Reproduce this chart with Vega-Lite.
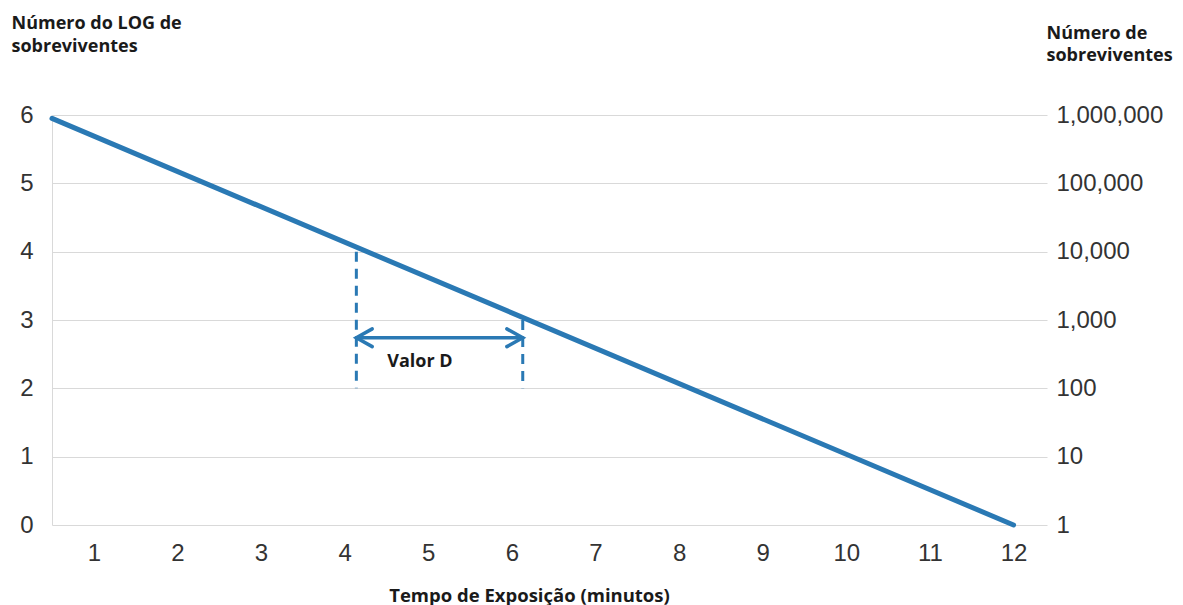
{
  "$schema": "https://vega.github.io/schema/vega-lite/v6.json",
  "width": 995,
  "height": 410,
  "autosize": "none",
  "padding": {"left": 52, "top": 115, "right": 136, "bottom": 80},
  "background": "white",
  "config": {"view": {"stroke": null}, "font": "Liberation Sans"},
  "datasets": {
    "curve": [{"t": 0.5, "log": 5.95}, {"t": 12, "log": 0}],
    "dashes": [
      {"seg": "a", "t": 4.14, "log": 4.0},
      {"seg": "a", "t": 4.14, "log": 2.0},
      {"seg": "b", "t": 6.13, "log": 3.0},
      {"seg": "b", "t": 6.13, "log": 2.0}
    ],
    "arrow": [
      {"seg": "shaft", "ord": 1, "t": 4.14, "log": 2.74},
      {"seg": "shaft", "ord": 2, "t": 6.13, "log": 2.74},
      {"seg": "left", "ord": 1, "t": 4.33, "log": 2.87},
      {"seg": "left", "ord": 2, "t": 4.14, "log": 2.74},
      {"seg": "left", "ord": 3, "t": 4.33, "log": 2.61},
      {"seg": "right", "ord": 1, "t": 5.94, "log": 2.87},
      {"seg": "right", "ord": 2, "t": 6.13, "log": 2.74},
      {"seg": "right", "ord": 3, "t": 5.94, "log": 2.61}
    ],
    "note": [{"t": 4.9, "log": 2.31, "label": "Valor D"}]
  },
  "layer": [
    {
      "data": {"name": "curve"},
      "mark": {"type": "line", "color": "#2a79b4", "strokeWidth": 5, "strokeCap": "round"},
      "encoding": {
        "x": {
          "field": "t", "type": "quantitative",
          "scale": {"domain": [0.5, 12.4], "nice": false, "zero": false},
          "axis": {
            "values": [1, 2, 3, 4, 5, 6, 7, 8, 9, 10, 11, 12],
            "format": "d",
            "grid": false, "domain": false, "ticks": false,
            "labelFontSize": 24, "labelColor": "#333333", "labelPadding": 16,
            "labelFont": "Liberation Sans",
            "title": "Tempo de Exposição (minutos)",
            "titleFont": "Open Sans", "titleFontWeight": "bold", "titleFontSize": 18.5,
            "titleColor": "#1a1a1a", "titleX": 477, "titleY": 76,
            "titleAlign": "center", "titleBaseline": "alphabetic"
          }
        },
        "y": {
          "field": "log", "type": "quantitative",
          "scale": {"domain": [0, 6], "nice": false},
          "axis": {
            "orient": "left",
            "values": [0, 1, 2, 3, 4, 5, 6],
            "grid": true, "gridColor": "#d9d9d9", "gridWidth": 1,
            "domain": true, "domainColor": "#d9d9d9", "domainWidth": 1,
            "ticks": false,
            "labelFontSize": 24, "labelColor": "#333333", "labelPadding": 19,
            "labelFont": "Liberation Sans",
            "title": ["Número do LOG de", "sobreviventes"],
            "titleAngle": 0, "titleAlign": "left", "titleBaseline": "alphabetic",
            "titleX": -41, "titleY": -87, "titleLineHeight": 23,
            "titleFont": "Open Sans", "titleFontWeight": "bold", "titleFontSize": 18,
            "titleColor": "#1a1a1a"
          }
        }
      }
    },
    {
      "data": {"name": "dashes"},
      "mark": {"type": "line", "color": "#2a79b4", "strokeWidth": 3, "strokeDash": [10, 7]},
      "encoding": {
        "x": {"field": "t", "type": "quantitative"},
        "y": {
          "field": "log", "type": "quantitative",
          "scale": {"domain": [0, 6], "nice": false},
          "axis": {
            "orient": "right",
            "values": [0, 1, 2, 3, 4, 5, 6],
            "labelExpr": "format(pow(10, datum.value), ',')",
            "grid": false, "domain": false, "ticks": false,
            "labelFontSize": 24, "labelColor": "#333333", "labelPadding": 9,
            "labelFont": "Liberation Sans", "labelAlign": "left",
            "title": ["Número de", "sobreviventes"],
            "titleAngle": 0, "titleAlign": "left", "titleBaseline": "alphabetic",
            "titleX": -1, "titleY": -77, "titleLineHeight": 22,
            "titleFont": "Open Sans", "titleFontWeight": "bold", "titleFontSize": 18,
            "titleColor": "#1a1a1a"
          }
        },
        "detail": {"field": "seg", "type": "nominal"}
      }
    },
    {
      "data": {"name": "arrow"},
      "mark": {"type": "line", "color": "#2a79b4", "strokeWidth": 3.5, "strokeCap": "round", "strokeJoin": "miter"},
      "encoding": {
        "x": {"field": "t", "type": "quantitative"},
        "y": {"field": "log", "type": "quantitative", "scale": {"domain": [0, 6], "nice": false}, "axis": null},
        "detail": {"field": "seg", "type": "nominal"},
        "order": {"field": "ord", "type": "quantitative"}
      }
    },
    {
      "data": {"name": "note"},
      "mark": {"type": "text", "font": "Open Sans", "fontWeight": "bold", "fontSize": 18, "color": "#1a1a1a", "align": "center", "baseline": "alphabetic"},
      "encoding": {
        "x": {"field": "t", "type": "quantitative"},
        "y": {"field": "log", "type": "quantitative", "scale": {"domain": [0, 6], "nice": false}, "axis": null},
        "text": {"field": "label", "type": "nominal"}
      }
    }
  ],
  "resolve": {"scale": {"y": "independent"}}
}
